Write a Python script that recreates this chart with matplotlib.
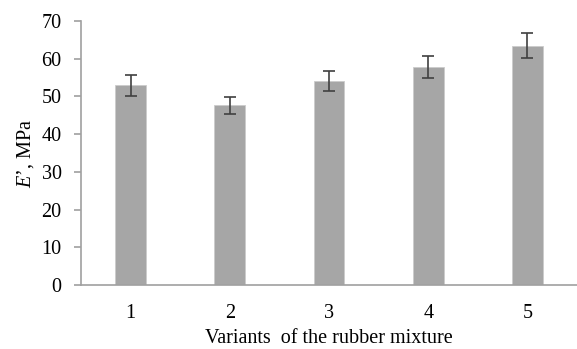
import matplotlib.pyplot as plt
import numpy as np

plt.rcParams["font.family"] = ["Liberation Serif", "DejaVu Serif"]
plt.rcParams["mathtext.fontset"] = "custom"
plt.rcParams["mathtext.it"] = "Liberation Serif:italic"
plt.rcParams["mathtext.rm"] = "Liberation Serif"

variants = ["1", "2", "3", "4", "5"]
modulus = [52.9, 47.6, 54.1, 57.8, 63.5]
errors = [2.7, 2.3, 2.7, 3.0, 3.2]

fig = plt.figure(figsize=(5.77, 3.49), dpi=100)
ax = fig.add_axes([0.1404, 0.1834, 0.8596, 0.7564])

x = np.arange(1, len(variants) + 1)
ax.bar(x, modulus, width=0.31, color="#a6a6a6", edgecolor="#cccccc", linewidth=0.6,
       yerr=errors, error_kw=dict(ecolor="#404040", elinewidth=1.2, capsize=4, capthick=1.2))

ax.set_xlim(0.5, 5.5)
ax.set_ylim(0, 70)
ax.set_yticks(np.arange(0, 71, 10))
ax.set_xticks(x)
ax.set_xticklabels(variants)

for s in ["top", "right"]:
    ax.spines[s].set_visible(False)
for s in ["left", "bottom"]:
    ax.spines[s].set_color("#a0a0a0")
    ax.spines[s].set_linewidth(1.2)

ax.tick_params(axis="y", length=5, width=1.2, color="#a0a0a0", pad=9, labelsize=14.5)
ax.tick_params(axis="x", length=0, pad=14, labelsize=14.5)

ax.set_xlabel("Variants  of the rubber mixture", fontsize=14.5, labelpad=4)
ax.set_ylabel("$\\mathit{E}$\u2019, MPa", fontsize=14.5, labelpad=4)

fig.savefig("out.png", dpi=100)
